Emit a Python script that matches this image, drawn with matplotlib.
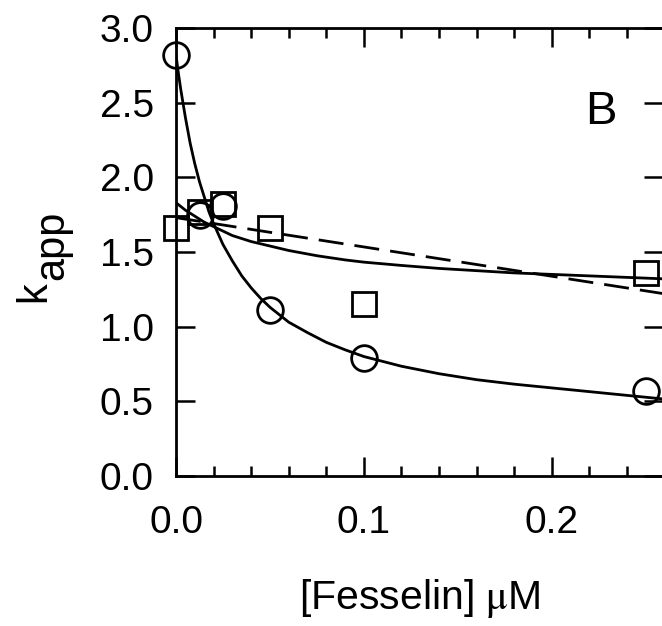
import matplotlib
matplotlib.use("Agg")
import matplotlib.pyplot as plt
import numpy as np

plt.rcParams['font.family'] = ['Liberation Sans', 'DejaVu Sans']

# --- data
fesselin = [0.0, 0.0125, 0.025, 0.05, 0.1, 0.25]
k_circles = [2.82, 1.75, 1.81, 1.11, 0.79, 0.57]
k_squares = [1.66, 1.77, 1.82, 1.66, 1.15, 1.36]

# fitted curves (traced points)
fit_c_x = [0.0, 0.001, 0.0025, 0.005, 0.0075, 0.01, 0.0125, 0.015, 0.0175,
           0.02, 0.025, 0.03, 0.035, 0.04, 0.045, 0.05, 0.06, 0.07, 0.08,
           0.09, 0.1, 0.12, 0.14, 0.16, 0.18, 0.2, 0.22, 0.24, 0.26]
fit_c_y = [2.82, 2.72, 2.59, 2.40, 2.23, 2.09, 1.97, 1.87, 1.77,
           1.69, 1.55, 1.44, 1.34, 1.26, 1.19, 1.13, 1.03, 0.96, 0.895,
           0.845, 0.80, 0.735, 0.685, 0.645, 0.615, 0.59, 0.565, 0.54, 0.515]
fit_s_x = [0.0, 0.005, 0.01, 0.015, 0.02, 0.03, 0.04, 0.05, 0.06, 0.075,
           0.09, 0.1, 0.12, 0.14, 0.16, 0.18, 0.2, 0.23, 0.26]
fit_s_y = [1.83, 1.78, 1.74, 1.70, 1.67, 1.61, 1.57, 1.54, 1.51, 1.475,
           1.447, 1.432, 1.41, 1.39, 1.375, 1.36, 1.35, 1.335, 1.32]
lin_s_x = [0.0, 0.26]
lin_s_y = [1.73, 1.22]

fig = plt.figure(figsize=[6.62, 6.26], dpi=100)
ax = fig.add_axes([0.2659, 0.2396, 0.7356, 0.7157])

ax.plot(fit_c_x, fit_c_y, color='black', lw=2.0)
ax.plot(fit_s_x, fit_s_y, color='black', lw=2.0)
ax.plot(lin_s_x, lin_s_y, color='black', lw=2.0, dashes=(9, 4))
ax.plot(fesselin, k_squares, ls='none', marker='s', ms=17, mew=2.0,
        mfc='none', mec='black', clip_on=False)
ax.plot(fesselin, k_circles, ls='none', marker='o', ms=18.5, mew=2.0,
        mfc='none', mec='black', clip_on=False)

ax.set_xlim(0, 0.2592)
ax.set_ylim(0, 3.0)
ax.set_xticks([0.0, 0.1, 0.2])
ax.set_xticklabels(['0.0', '0.1', '0.2'])
ax.set_xticks(np.arange(0, 0.26, 0.02), minor=True)
ax.set_yticks([0.0, 0.5, 1.0, 1.5, 2.0, 2.5, 3.0])
ax.set_yticklabels(['0.0', '0.5', '1.0', '1.5', '2.0', '2.5', '3.0'])

for s in ax.spines.values():
    s.set_linewidth(2.0)
ax.spines['right'].set_visible(False)
ax.tick_params(which='major', direction='in', length=14, width=1.8,
               labelsize=28, top=True, right=True)
ax.tick_params(which='minor', direction='in', length=7, width=1.8,
               top=True, bottom=True)
ax.tick_params(axis='x', pad=21)
ax.tick_params(axis='y', pad=16)

ax.set_xlabel(r'[Fesselin] $\mathrm{\mu}$M', fontsize=29.5, labelpad=26,
              math_fontfamily='stix')

# y label: k with same-size lowered "app"
fig.text(45 / 662, 1 - 302 / 626, 'k', fontsize=30, rotation=90,
         rotation_mode='anchor', ha='left', va='baseline')
fig.text(63 / 662, 1 - 280 / 626, 'app', fontsize=30, rotation=90,
         rotation_mode='anchor', ha='left', va='baseline')

ax.text(0.226, 2.44, 'B', fontsize=34, ha='center', va='center')

fig.savefig('out.png', dpi=100)
